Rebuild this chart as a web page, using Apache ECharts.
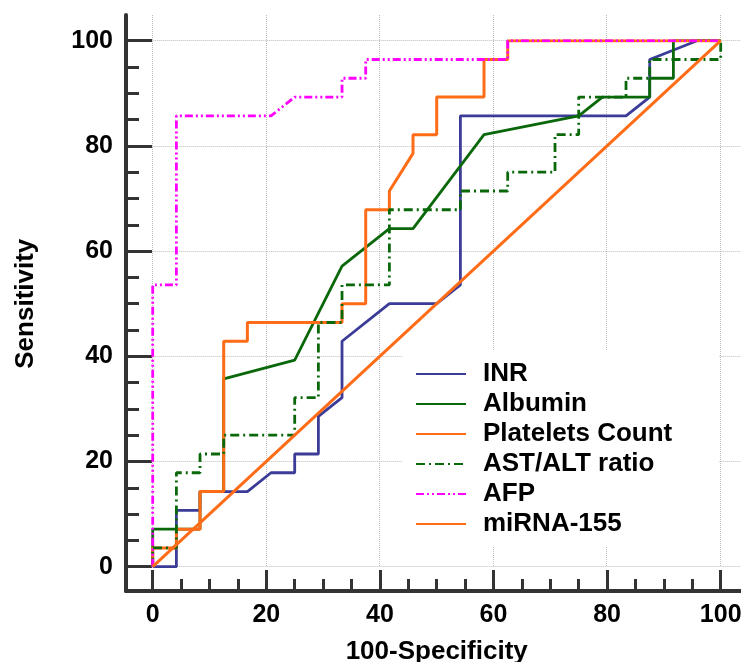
<!DOCTYPE html>
<html><head><meta charset="utf-8">
<script src="https://cdn.jsdelivr.net/npm/echarts@6/dist/echarts.min.js"></script>
<style>html,body{margin:0;padding:0;background:#fff}#c{width:741px;height:662px}</style>
</head><body><div id="c"></div>
<script>
// ---- data (100-Specificity, Sensitivity) ----
const seriesNames = ['INR', 'Albumin', 'Platelets Count', 'AST/ALT ratio', 'AFP', 'miRNA-155'];
const xTicks = [0, 20, 40, 60, 80, 100];
const yTicks = [0, 20, 40, 60, 80, 100];

const inrX = [0, 4.17, 4.17, 8.33, 8.33, 16.67, 20.83, 25, 25, 29.17, 29.17, 33.33, 33.33, 41.67, 50, 54.17, 54.17, 83.33, 87.5, 87.5, 95.83, 100];
const inrY = [0, 0, 10.71, 10.71, 14.29, 14.29, 17.86, 17.86, 21.43, 21.43, 28.57, 32.14, 42.86, 50, 50, 53.57, 85.71, 85.71, 89.29, 96.43, 100, 100];

const albX = [0, 0, 8.33, 8.33, 12.5, 12.5, 25, 33.33, 41.67, 45.83, 58.33, 75, 79.17, 87.5, 87.5, 91.67, 91.67, 100];
const albY = [0, 7.14, 7.14, 14.29, 14.29, 35.71, 39.29, 57.14, 64.29, 64.29, 82.14, 85.71, 89.29, 89.29, 92.86, 92.86, 100, 100];

const pltX = [0, 0, 4.17, 4.17, 8.33, 8.33, 12.5, 12.5, 16.67, 16.67, 33.33, 33.33, 37.5, 37.5, 41.67, 41.67, 45.83, 45.83, 50, 50, 58.33, 58.33, 62.5, 62.5, 100];
const pltY = [0, 3.57, 3.57, 7.14, 7.14, 14.29, 14.29, 42.86, 42.86, 46.43, 46.43, 50, 50, 67.86, 67.86, 71.43, 78.57, 82.14, 82.14, 89.29, 89.29, 96.43, 96.43, 100, 100];

const astX = [0, 0, 4.17, 4.17, 8.33, 8.33, 12.5, 12.5, 25, 25, 29.17, 29.17, 33.33, 33.33, 41.67, 41.67, 54.17, 54.17, 62.5, 62.5, 70.83, 70.83, 75, 75, 83.33, 83.33, 87.5, 87.5, 100, 100];
const astY = [0, 3.57, 3.57, 17.86, 17.86, 21.43, 21.43, 25, 25, 32.14, 32.14, 46.43, 46.43, 53.57, 53.57, 67.86, 67.86, 71.43, 71.43, 75, 75, 82.14, 82.14, 89.29, 89.29, 92.86, 92.86, 96.43, 96.43, 100];

const afpX = [0, 0, 4.17, 4.17, 20.83, 25, 33.33, 33.33, 37.5, 37.5, 62.5, 62.5, 100];
const afpY = [0, 53.57, 53.57, 85.71, 85.71, 89.29, 89.29, 92.86, 92.86, 96.43, 96.43, 100, 100];

const mirX = [0, 100];
const mirY = [0, 100];

const colors = ['#3b3b98', '#0a680a', '#ff6c17', '#0a680a', '#ff00ff', '#ff6c17'];
const dashes = ['solid', 'solid', 'solid', [9, 4, 2, 4], [8, 3, 2, 3, 2, 3], 'solid'];
const widths = [2.8, 2.8, 3, 2.8, 2.8, 3];

const xs = [inrX, albX, pltX, astX, afpX, mirX];
const ys = [inrY, albY, pltY, astY, afpY, mirY];

const FONT = 'Liberation Sans, Arial, sans-serif';
const tickTxt = { fontFamily: FONT, fontWeight: 'bold', fontSize: 25, color: '#000' };
const nameTxt = { fontFamily: FONT, fontWeight: 'bold', fontSize: 26, color: '#000' };
const axisColor = '#333';

const series = seriesNames.map((n, i) => ({
  name: n, type: 'line', xAxisIndex: 1, yAxisIndex: 1,
  data: xs[i].map((x, k) => [x, ys[i][k]]),
  symbol: 'none', smooth: false, animation: false,
  lineStyle: { color: colors[i], width: widths[i], type: dashes[i] },
  itemStyle: { color: colors[i] },
  z: 3 + i
}));

const hidden = (g) => ({ gridIndex: g, type: 'value', show: false, min: 0, max: 1, axisLine: { onZero: false } });
const xMax = xTicks[xTicks.length - 1], yMax = yTicks[yTicks.length - 1];
const G = { show: false, containLabel: false, outerBoundsMode: 'none' };

const chart = echarts.init(document.getElementById('c'), null, { renderer: 'canvas' });
chart.setOption({
  animation: false,
  backgroundColor: '#fff',
  grid: [
    Object.assign({ left: 126, top: 15, right: 0, bottom: 71 }, G),          // frame lines
    Object.assign({ left: 152.7, top: 40.7, right: 20.3, bottom: 95.3 }, G), // data
    Object.assign({ left: 152.7, top: 15, right: 0, bottom: 95.3 }, G),      // grid lines
    Object.assign({ left: 100, top: 40.7, right: 615, bottom: 95.3 }, G),    // y ticks
    Object.assign({ left: 152.7, top: 591, right: 20.3, bottom: 40 }, G)     // x ticks
  ],
  xAxis: [
    { gridIndex: 0, type: 'value', min: 0, max: 1, silent: true,
      axisLine: { show: true, onZero: false, lineStyle: { color: axisColor, width: 4 } },
      axisTick: { show: false }, axisLabel: { show: false }, splitLine: { show: false } },
    { gridIndex: 1, type: 'value', min: xTicks[0], max: xMax, interval: 20, offset: 24.3,
      axisLine: { show: false, onZero: false }, axisTick: { show: false },
      axisLabel: Object.assign({ margin: 12 }, tickTxt),
      splitLine: { show: false },
      name: '100-Specificity', nameLocation: 'middle', nameGap: 48, nameTextStyle: nameTxt },
    { gridIndex: 2, type: 'value', min: 0, max: xMax * 589 / 568, interval: 20,
      axisLine: { show: false, onZero: false }, axisTick: { show: false }, axisLabel: { show: false },
      splitLine: { show: true, showMaxLine: false, lineStyle: { type: 'dotted', color: '#bdbdbd', width: 1 } } },
    hidden(3),
    { gridIndex: 4, type: 'value', position: 'top', min: xTicks[0], max: xMax, interval: 20,
      axisLine: { show: false, onZero: false },
      axisTick: { show: true, inside: false, length: 21, lineStyle: { color: axisColor, width: 3 } },
      minorTick: { show: true, splitNumber: 4, length: 12, lineStyle: { color: axisColor, width: 3 } },
      axisLabel: { show: false }, splitLine: { show: false } }
  ],
  yAxis: [
    { gridIndex: 0, type: 'value', min: 0, max: 1, silent: true,
      axisLine: { show: true, onZero: false, lineStyle: { color: axisColor, width: 4 } },
      axisTick: { show: false }, axisLabel: { show: false }, splitLine: { show: false } },
    { gridIndex: 1, type: 'value', min: yTicks[0], max: yMax, interval: 20, offset: 26.7,
      axisLine: { show: false, onZero: false }, axisTick: { show: false },
      axisLabel: Object.assign({ margin: 13 }, tickTxt),
      splitLine: { show: false },
      name: 'Sensitivity', nameLocation: 'middle', nameRotate: 90, nameGap: 87, nameTextStyle: nameTxt },
    { gridIndex: 2, type: 'value', min: 0, max: yMax * 551.7 / 526, interval: 20,
      axisLine: { show: false, onZero: false }, axisTick: { show: false }, axisLabel: { show: false },
      splitLine: { show: true, showMaxLine: false, lineStyle: { type: 'dotted', color: '#bdbdbd', width: 1 } } },
    { gridIndex: 3, type: 'value', position: 'right', min: yTicks[0], max: yMax, interval: 20,
      axisLine: { show: false, onZero: false },
      axisTick: { show: true, inside: false, length: 26, lineStyle: { color: axisColor, width: 3 } },
      minorTick: { show: true, splitNumber: 4, length: 13, lineStyle: { color: axisColor, width: 3 } },
      axisLabel: { show: false }, splitLine: { show: false } },
    hidden(4)
  ],
  legend: {
    orient: 'vertical', left: 402, top: 351,
    data: seriesNames,
    itemWidth: 50, itemHeight: 14, itemGap: 4,
    padding: [10, 47, 10, 13],
    backgroundColor: '#fff',
    itemStyle: { opacity: 0 },
    textStyle: Object.assign({ lineHeight: 26, padding: [0, 0, 0, 12] }, nameTxt),
    selectedMode: false
  },
  series: series
});
</script>
</body></html>
